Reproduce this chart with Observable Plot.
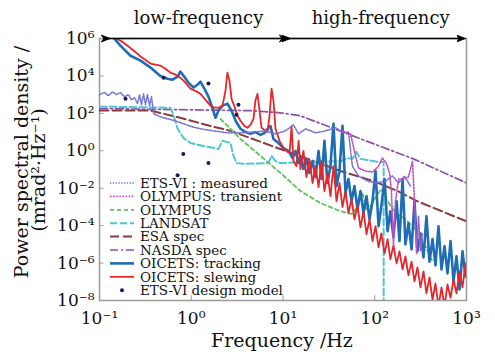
<!DOCTYPE html>
<html><head><meta charset="utf-8">
<script src="https://cdn.jsdelivr.net/npm/d3@7"></script>
<script src="https://cdn.jsdelivr.net/npm/@observablehq/plot@0.6"></script>
<style>html,body{margin:0;padding:0;background:#fff;}</style>
</head><body><div id="chart"></div>
<script>
// ---------- data (frequency in Hz, PSD in mrad^2/Hz) ----------
const seriesNames = ["ETS-VI : measured","OLYMPUS: transient","OLYMPUS","LANDSAT","ESA spec","NASDA spec","OICETS: tracking","OICETS: slewing","ETS-VI design model"];

const xTickValues = [0.1, 1, 10, 100, 1000];
const xTickLabels = ["10⁻¹","10⁰","10¹","10²","10³"];
const yTickValues = [1e6, 1e4, 1e2, 1, 1e-2, 1e-4, 1e-6, 1e-8];
const yTickLabels = ["10⁶","10⁴","10²","10⁰","10⁻²","10⁻⁴","10⁻⁶","10⁻⁸"];

const bandNames = ["low-frequency","high-frequency"];
const bandStart = [0.125, 11.6];
const bandEnd = [10.9, 930];
const bandLabelAt = [1.2, 116];
const bandLevel = [1e6, 1e6];

const highFreq = [15.5,16.7,18.0,19.4,21.0,22.6,24.4,26.3,28.3,30.5,32.9,35.5,38.3,41.3,44.5,48.0,51.7,55.8,60.1,64.9,69.9,75.4,81.3,87.7,94.5,102,110,118,128,138,148,160,173,186,201,216,233,252,271,292,315,340,366,395,426,459,495,534,576,621,670,722,778,839,905,975,1000];

const trackLowFreq = [0.142,0.169,0.218,0.28,0.36,0.46,0.55,0.625,0.71,0.76,0.84,0.93,1.06,1.17,1.26,1.39,1.54,1.71,1.84,1.98,2.19,2.48,2.75,3.04,3.44,3.9,4.42,5.0,5.69,6.28,6.95,7.31,7.88,8.93,10.1,11.5,12.7,13.7,14.8];
const trackLowPSD = [1.1e6,4.2e5,1.2e5,6.6e4,2.8e4,1.0e4,7.1e3,6.3e3,9.1e3,1.7e4,9.1e3,4.4e3,2.4e3,3.4e3,4.9e3,2.1e3,780,180,58,140,260,330,140,40,15,10,8.0,10,7.1,9.1,17,21,4.3,2.6,1.4,0.98,0.41,0.98,0.22];
const trackHighPSD = [0.53,0.106,0.36,0.065,0.285,0.039,0.98,0.031,3.4,0.019,0.154,28,0.013,0.083,21.5,0.0055,0.031,0.0020,0.013,7.6e-4,0.0070,4.6e-4,0.0038,2.2e-4,0.0020,0.083,9.3e-5,0.0011,0.031,5.0e-5,5.9e-4,2.4e-5,0.0020,1.5e-5,0.031,1.0e-5,1.35e-4,5.4e-6,0.0020,4.2e-6,3.9e-5,2.0e-6,3.2e-4,1.2e-6,1.9e-5,7.5e-7,9.3e-5,4.6e-7,7.9e-6,2.8e-7,1.5e-5,1.04e-7,2.3e-6,3.9e-8,4.2e-6,1.9e-7,6.6e-7];

const slewLowFreq = [0.142,0.169,0.20,0.235,0.28,0.36,0.46,0.52,0.59,0.67,0.76,0.865,0.98,1.11,1.26,1.43,1.62,1.79,1.98,2.19,2.36,2.48,2.61,2.75,2.96,3.19,3.44,3.8,4.10,4.42,4.77,5.0,5.27,5.55,5.83,6.28,6.77,7.13,7.5,7.88,8.28,9.16,10.1,10.9,11.8,12.4,13.0,14.0,14.8];
const slewLowPSD = [1.1e6,7.8e5,4.2e5,2.3e5,1.1e5,4.6e4,3.6e4,2.5e4,1.5e4,1.2e4,8.1e3,4.4e3,2.1e3,1.6e3,1.1e3,530,260,200,200,260,1.6e3,1.5e4,5.6e3,600,230,74,40,21,17,24,51,470,1.1e3,140,17,13,10,74,2.1e3,470,15,3.4,1.4,0.98,0.77,21,0.28,0.15,3.4];
const slewHighPSD = [0.106,0.98,0.039,0.36,0.019,0.154,0.0115,0.285,0.0070,0.065,0.0038,0.154,0.0020,0.019,9.7e-4,0.0070,4.6e-4,0.0026,2.2e-4,0.0012,8.2e-5,5.9e-4,3.5e-5,2.2e-4,1.5e-5,9.3e-5,6.9e-6,3.9e-5,3.3e-6,1.9e-5,1.6e-6,8.9e-6,9.6e-7,4.2e-6,4.6e-7,2.3e-6,2.2e-7,1.2e-6,1.04e-7,5.9e-7,5.0e-8,3.6e-7,2.4e-8,1.7e-7,1.1e-8,8.1e-8,5e-9,5.0e-8,5e-9,7.2e-8,1.4e-8,1.3e-7,2.4e-8,3.6e-7,5.0e-8,9.6e-7,1.9e-7];

const measuredFreq = [0.1,0.113,0.125,0.139,0.153,0.169,0.187,0.207,0.223,0.241,0.26,0.273,0.287,0.302,0.317,0.333,0.351,0.369,0.39,0.46,0.55,0.67,0.82,1.03,1.26,1.75,2.48,3.44,4.77,6.44,8.28,10.6,13.0,14.8,17.6,22.6,29.0,37.3,45.6,51.7,57.1,66.5,83.4,102,131,156,182,211,245];
const measuredPSD = [1.0e3,1.3e3,880,1.4e3,1.0e3,1.3e3,780,1.0e3,530,680,330,1.0e3,290,1.1e3,290,1.0e3,260,780,95,66,51,40,28,19,15,11.6,9.1,9.1,10,11.6,8.0,11.6,24,8.0,15,9.1,11.6,17,9.1,10,0.15,0.045,0.024,0.019,0.024,0.045,0.019,0.045,0.013];

const transientFreq = [42.4,48.0,54.4,60.1,66.5,79.2,94.5,110,121,134,145,152,160,168,182,211,233,258,271,285,300,315,331];
const transientPSD = [11.6,10,8.0,0.98,0.12,0.083,0.073,0.15,0.41,0.22,0.065,0.0071,7.8e-6,0.0020,0.031,0.031,0.040,0.28,0.0020,3.3e-6,3.2e-4,4.2e-6,3.9e-5];

const olympusFreq = [2.08,3.44,5.69,9.40,15.5,25.6,42.4,57.1,66.5,73.4,81.3,89.9,104,118,134,168,216,278,357,426];
const olympusPSD = [51,4.3,0.53,0.065,0.0071,0.0016,5.9e-4,4.1e-4,0.0014,0.0055,7.6e-4,0.0011,0.0038,0.0089,0.0026,4.7e-4,2.2e-4,6.4e-5,7.8e-6,1.2e-6];

const landsatFreq = [0.1,0.59,0.64,0.71,0.82,0.98,1.36,1.98,2.19,2.42,2.68,2.89,3.11,3.9,6.95,7.5,8.28,9.40,42.4,50.5,57.1,63.2,70.0,110,125,125];
const landsatPSD = [230,200,84,15,4.9,2.6,1.8,1.26,3.4,3.0,2.6,0.53,0.22,0.20,0.22,0.53,0.28,0.22,0.28,0.41,0.37,0.87,0.37,0.25,0.25,5e-9];

const esaFreq = [0.1,0.36,0.76,1.62,2.68,42.4,96.9,177,292,1000];
const esaPSD = [140,140,58,21,11.6,0.083,0.024,0.0071,0.0020,1.7e-4];

const nasdaFreq = [0.1,4.42,9.40,15.5,50.5,264,1000];
const nasdaPSD = [180,140,107,74,8.0,0.37,0.019];

const designFreq = [0.192,0.50,1.54,0.82,1.54,0.71,3.27,3.11];
const designPSD = [600,8.1e3,3.9e3,0.68,0.22,0.050,290,84];

// ---------- styles ----------
const styles = {
  "ETS-VI : measured":  {stroke:"#7674d6", dash:"1.3,1.5", width:1.6},
  "OLYMPUS: transient": {stroke:"#c04fc6", dash:"1.6,1.5", width:1.6},
  "OLYMPUS":            {stroke:"#5cc45a", dash:"4,3", width:1.8},
  "LANDSAT":            {stroke:"#4ec6d3", dash:"7,3", width:2},
  "ESA spec":           {stroke:"#8a3a3c", dash:"9,4", width:2},
  "NASDA spec":         {stroke:"#8c4fa6", dash:"8,3,2,3", width:1.7},
  "OICETS: tracking":   {stroke:"#1f6db5", dash:null, width:2.6},
  "OICETS: slewing":    {stroke:"#e6262b", dash:null, width:1.8},
  "ETS-VI design model":{fill:"#1b1b5c", dot:true}
};

function rows(fr, ps) { return fr.map((f, i) => ({f, p: ps[i]})); }
const series = {
  "ETS-VI : measured": rows(measuredFreq, measuredPSD),
  "OLYMPUS: transient": rows(transientFreq, transientPSD),
  "OLYMPUS": rows(olympusFreq, olympusPSD),
  "LANDSAT": rows(landsatFreq, landsatPSD),
  "ESA spec": rows(esaFreq, esaPSD),
  "NASDA spec": rows(nasdaFreq, nasdaPSD),
  "OICETS: tracking": rows(trackLowFreq.concat(highFreq), trackLowPSD.concat(trackHighPSD)),
  "OICETS: slewing": rows(slewLowFreq.concat(highFreq), slewLowPSD.concat(slewHighPSD))
};
const designRows = rows(designFreq, designPSD);
const bands = bandNames.map((n, i) => ({name: n, x1: bandStart[i], x2: bandEnd[i], xl: bandLabelAt[i], y: bandLevel[i]}));

function lineMark(name) {
  const s = styles[name];
  return Plot.line(series[name], {x: "f", y: "p", stroke: s.stroke, strokeWidth: s.width,
    strokeDasharray: s.dash || undefined, clip: true, strokeLinejoin: "round"});
}
const drawOrder = ["ESA spec","NASDA spec","LANDSAT","OLYMPUS","OICETS: tracking","OICETS: slewing","ETS-VI : measured","OLYMPUS: transient"];

const xLab = new Map(xTickValues.map((v, i) => [v, xTickLabels[i]]));
const yLab = new Map(yTickValues.map((v, i) => [v, yTickLabels[i]]));

const svg = Plot.plot({
  width: 495, height: 352,
  marginLeft: 99, marginRight: 29, marginTop: 38, marginBottom: 52,
  style: {fontFamily: "DejaVu Serif", fontSize: "17px", background: "#fff", color: "#111"},
  x: {type: "log", domain: [0.1, 1000], ticks: xTickValues, tickFormat: d => xLab.get(d), tickSize: 0, tickPadding: 11, label: null},
  y: {type: "log", domain: [1e-8, 1e6], ticks: yTickValues, tickFormat: d => yLab.get(d), tickSize: 0, tickPadding: 5, label: null},
  marks: [
    Plot.frame({stroke: "#9a9a9a", strokeWidth: 1.5}),
    Plot.ruleY(yTickValues, {x1: 0.1, x2: 0.112, stroke: "#9a9a9a"}),
    Plot.ruleX(xTickValues, {y1: 1e-8, y2: 1.8e-8, stroke: "#9a9a9a"}),
    ...drawOrder.map(lineMark),
    Plot.dot(designRows, {x: "f", y: "p", r: 2, fill: styles["ETS-VI design model"].fill, stroke: "none", clip: true}),
    Plot.link(bands, {x1: "x1", x2: "x2", y1: "y", y2: "y", stroke: "#000", strokeWidth: 1.4, markerStart: "arrow", markerEnd: "arrow"}),
    Plot.text(bands, {x: "xl", y: "y", text: "name", dy: -20, fontSize: 18, fill: "#111"})
  ]
});

const root = d3.select(svg);
// filled arrow heads
root.selectAll("marker")
  .attr("markerUnits", "userSpaceOnUse").attr("viewBox", "-7 -7 14 14")
  .attr("markerWidth", 14).attr("markerHeight", 14)
  .attr("fill", "#000").attr("stroke", "none");
root.selectAll("marker path").attr("d", "M3,0 L-8,-4.2 L-5,0 L-8,4.2 Z");

// axis titles
root.append("text").attr("x", 282).attr("y", 347).attr("text-anchor", "middle")
  .attr("font-size", 19).attr("fill", "#111").text("Frequency /Hz");
root.append("text").attr("transform", "translate(28,162) rotate(-90)").attr("text-anchor", "middle")
  .attr("font-size", 19).attr("fill", "#111").text("Power spectral density /");
root.append("text").attr("transform", "translate(45,170) rotate(-90)").attr("text-anchor", "middle")
  .attr("font-size", 19).attr("fill", "#111").text("(mrad²·Hz⁻¹)");

// legend inside the plot
const lg = root.append("g").attr("font-size", 13.5).attr("fill", "#111").attr("text-anchor", "start");
seriesNames.forEach((name, i) => {
  const y = 183 + i * 13.4;
  const s = styles[name];
  if (s.dot) {
    lg.append("circle").attr("cx", 122).attr("cy", y).attr("r", 2).attr("fill", s.fill);
  } else {
    lg.append("line").attr("x1", 110).attr("x2", 134).attr("y1", y).attr("y2", y)
      .attr("stroke", s.stroke).attr("stroke-width", s.width)
      .attr("stroke-dasharray", s.dash || null);
  }
  lg.append("text").attr("x", 140).attr("y", y).attr("dy", "0.35em").attr("text-anchor", "start").text(name);
});

document.getElementById("chart").appendChild(svg);
</script>
</body></html>
